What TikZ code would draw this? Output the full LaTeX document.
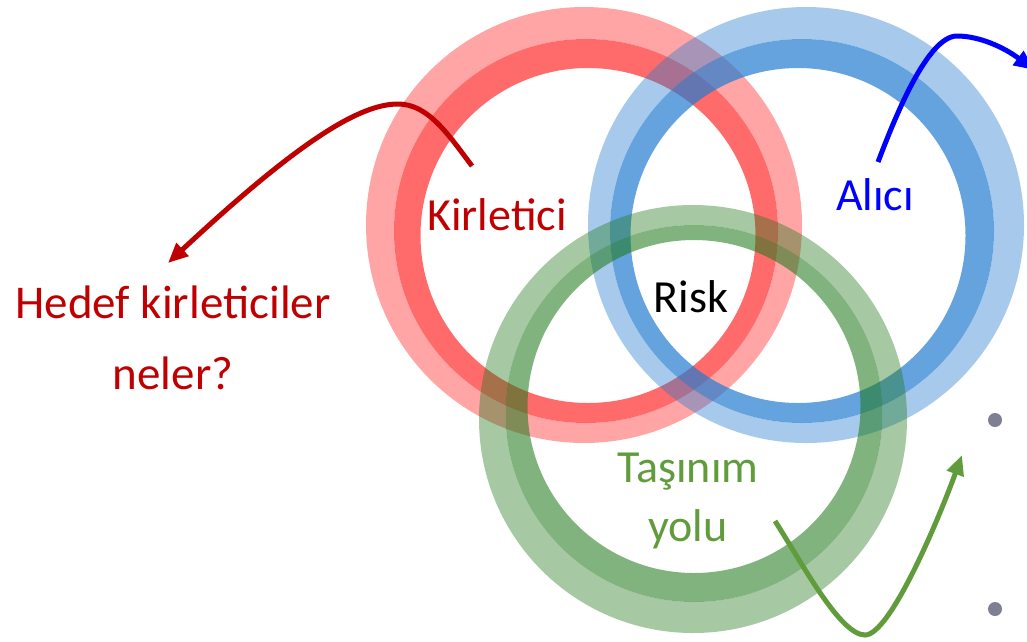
\documentclass[tikz,border=0pt]{standalone}
\usepackage{fontspec}
\setmainfont{Carlito}
\usepackage{xcolor}
\usepackage{tikz}
\usetikzlibrary{arrows.meta}

\definecolor{ringred}{RGB}{255,30,30}
\definecolor{ringblue}{RGB}{35,124,209}
\definecolor{ringgreen}{RGB}{33,122,28}
\definecolor{kred}{RGB}{192,0,0}
\definecolor{kblue}{RGB}{0,0,255}
\definecolor{kgreen}{RGB}{96,156,60}
\definecolor{dotgray}{RGB}{127,127,147}

\begin{document}
\begin{tikzpicture}[x=1pt, y=-1pt, font=\fontsize{46}{56}\selectfont]
		\tikzstyle{light} = [fill opacity=0.4, even odd rule]
		\tikzstyle{dark} = [fill opacity=0.66, even odd rule]
		\tikzstyle{word} = [inner sep=0pt, anchor=base]
		\tikzstyle{arrow} = [line width=5pt, -{Triangle[length=20pt, width=17pt]}]
		\tikzstyle{dot} = [circle, fill=dotgray, inner sep=0pt, minimum size=14pt]
		
		\useasboundingbox (0,0) rectangle (1027,641);
		\fill[white] (0,0) rectangle (1027,641);
		
		% rings
		\fill[light, ringred]   (584,225) circle (218pt) (586,231) circle (192pt);
		\fill[dark, ringred]    (586,231) circle (192pt) (588,235.5) circle (167.5pt);
		\fill[light, ringblue]  (806,225) circle (218pt) (802,231) circle (192pt);
		\fill[dark, ringblue, fill opacity=0.7] (802,231) circle (192pt) (798,235.5) circle (167.5pt);
		\fill[light, ringgreen] (693,419) circle (214pt) (694,413.5) circle (188.5pt);
		\fill[dark, ringgreen, fill opacity=0.57] (694,413.5) circle (188.5pt) (694,406.5) circle (166.5pt);
		
		\node[word, text=kred]	at (497, 230)	(kir)	{Kirletici};
		\node[word, text=kblue]	at (875, 210)	(alici)	{Alıcı};
		\node[word]		at (691, 312)	(risk)	{Risk};
		% base = last line
		\node[word, text=kgreen, align=center, font=\fontsize{46}{59}\selectfont]
					at (688, 541)	(yol)	{Taşınım\\yolu};
		\node[word, text=kred, align=center, font=\fontsize{47}{71}\selectfont]
					at (173, 389)	(hedef)	{Hedef kirleticiler\\neler?};
		
		\node[dot] at (995, 420) (b1) {};
		\node[dot] at (995, 609) (b2) {};
		
		\coordinate (ks) at (472, 166);
		\coordinate (kt) at (398, 104);
		\coordinate (ke) at (168, 263);
		\coordinate (as) at (878, 162);
		\coordinate (at) at (957, 36);
		\coordinate (ae) at (1034, 70);
		\coordinate (ts) at (775, 521);
		\coordinate (tb) at (865, 635);
		\coordinate (te) at (962, 455);
		
		\draw [arrow, kred]   (ks) .. controls (448,134) and (428,104) .. (kt) .. controls (360,104) and (300,140) .. (ke);
		\draw [arrow, kblue]  (as) .. controls (894,120) and (927,36) .. (at) .. controls (980,36) and (1005,48) .. (ae);
		\draw [arrow, kgreen] (ts) .. controls (802,563) and (840,635) .. (tb) .. controls (890,635) and (938,521) .. (te);
		
	\end{tikzpicture}
\end{document}
